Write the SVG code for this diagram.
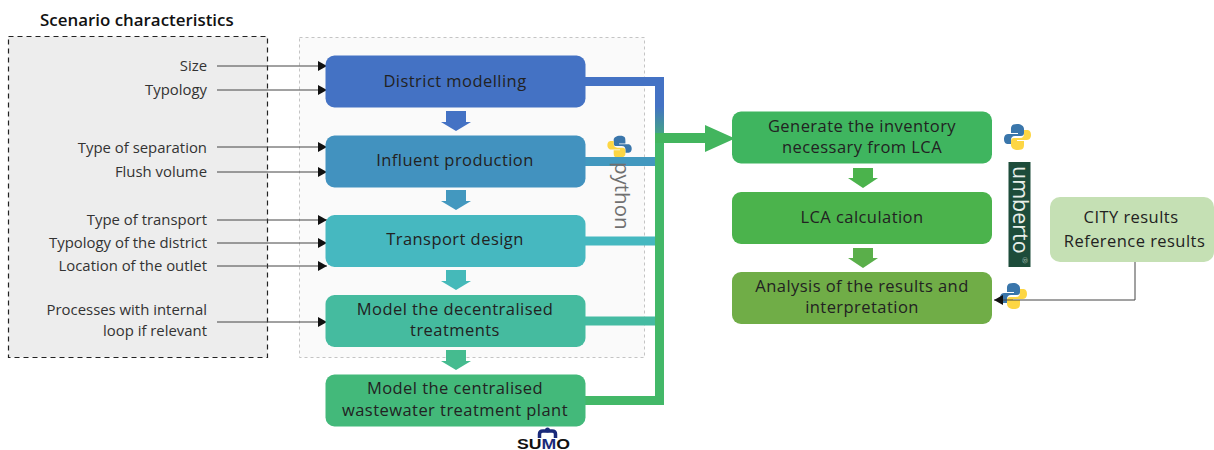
<svg xmlns="http://www.w3.org/2000/svg" width="1214" height="450" viewBox="0 0 1214 450">
<style>
text{font-family:"Open Sans","Liberation Sans",sans-serif;fill:#222}
.n{font-size:16.5px;letter-spacing:.45px;text-anchor:middle}
.l{font-size:14.9px;text-anchor:end;fill:#333}
.a{stroke:#444;stroke-width:1;fill:none;marker-end:url(#ah)}
.t{fill:none;stroke-width:9}
</style>
<defs>
<marker id="ah" markerUnits="userSpaceOnUse" markerWidth="9" markerHeight="10" refX="9" refY="5" orient="auto"><path d="M0 0L9 5L0 10Z" fill="#111"/></marker>
<linearGradient id="vg" gradientUnits="userSpaceOnUse" x1="0" y1="78" x2="0" y2="135"><stop offset="0" stop-color="#4472c4"/><stop offset=".5" stop-color="#4472c4"/><stop offset="1" stop-color="#44a585"/></linearGradient>
<g id="py">
<path d="M0 -12C-6 -12 -6 -9 -6 -6V-3H1V-2H-9C-12 -2 -13 1 -13 3C-13 7 -11 8 -9 8H-6V4C-6 2 -5 0 -2 0H4C6 0 7 -1 7 -3V-7C7 -10 4 -12 0 -12Z" fill="#3a76ab"/>
<path d="M1 14C7 14 7 11 7 8V5H0V4H10C13 4 14 1 14 -1C14 -5 12 -6 10 -6H7V-2C7 0 6 2 3 2H-3C-5 2 -6 3 -6 5V9C-6 12 -3 14 1 14Z" fill="#fdd644"/>
</g>
</defs>
<rect width="1214" height="450" fill="#fff"/>
<text x="40" y="26" style="font-size:16.900px;font-weight:600;fill:#111">Scenario characteristics</text>
<rect id="scenario-box" x="8.500" y="36.500" width="259" height="321" fill="#ededed" stroke="#222" stroke-width="1.200" stroke-dasharray="5 4"/>
<rect id="python-box" x="299.500" y="37.500" width="345" height="320" fill="#fafafa" stroke="#c4c4c4" stroke-dasharray="3 3"/>

<g id="python-logos">
<use href="#py" transform="translate(620 146) scale(-.9 .85)"/>
<use href="#py" x="1017" y="136"/>
<use href="#py" x="1013" y="295"/>
</g>

<g id="connectors">
<path class="t" d="M585 81.500H659.500V136" stroke="url(#vg)"/>
<path class="t" d="M585 161.500H656" stroke="#4298bf"/>
<path class="t" d="M585 241H656" stroke="#45b8c0"/>
<path class="t" d="M585 321H656" stroke="#45bba2"/>
<path class="t" d="M585 400.500H659.500V133" stroke="#43b868"/>
<path d="M655 133H705V125L735 138.500L705 152V143H655Z" fill="#43b55e"/>
<path class="a" d="M217 66H327"/><path class="a" d="M217 90H327"/>
<path class="a" d="M217 147H327"/><path class="a" d="M217 172H327"/>
<path class="a" d="M217 220H327"/><path class="a" d="M217 243H327"/><path class="a" d="M217 266H327"/>
<path class="a" d="M217 322H327"/>
<path class="a" d="M1135 262V300H994"/>
<path d="M446 111H466V122H471L456 131L441 122H446Z" fill="#4472c4"/>
<path d="M446 190H466V201H471L456 210L441 201H446Z" fill="#4398bf"/>
<path d="M446 270H466V281H471L456 290L441 281H446Z" fill="#45b9b9"/>
<path d="M446 350H466V361H471L456 370L441 361H446Z" fill="#45bb8f"/>
<path d="M853 168H873V178H878L863 188L848 178H853Z" fill="#4bb34c"/>
<path d="M853 248H873V258H878L863 268L848 258H853Z" fill="#5aaf4a"/>
</g>

<g id="size"><text class="l" x="207" y="71">Size</text></g>
<g id="typology"><text class="l" x="207" y="95">Typology</text></g>
<g id="sep"><text class="l" x="207" y="153">Type of separation</text></g>
<g id="flush"><text class="l" x="207" y="177">Flush volume</text></g>
<g id="transport-type"><text class="l" x="207" y="225">Type of transport</text></g>
<g id="district-typology"><text class="l" x="207" y="248">Typology of the district</text></g>
<g id="outlet"><text class="l" x="207" y="271">Location of the outlet</text></g>
<g id="processes"><text class="l" x="207" y="315">Processes with internal</text><text class="l" x="207" y="336">loop if relevant</text></g>

<g id="district-modelling"><rect x="325.500" y="55.500" width="260" height="52" rx="9" fill="#4472c4"/><text class="n" x="455" y="87">District modelling</text></g>
<g id="influent-production"><rect x="325.500" y="135.500" width="260" height="52" rx="9" fill="#4292bf"/><text class="n" x="455" y="166">Influent production</text></g>
<g id="transport-design"><rect x="325.500" y="215" width="260" height="52" rx="9" fill="#46b8c0"/><text class="n" x="455" y="245">Transport design</text></g>
<g id="decentralised"><rect x="325.500" y="295" width="260" height="52" rx="9" fill="#45bb9f"/><text class="n" x="455" y="315">Model the decentralised</text><text class="n" x="455" y="336">treatments</text></g>
<g id="centralised"><rect x="325.500" y="374.500" width="260" height="52" rx="9" fill="#43b97a"/><text class="n" x="455" y="394">Model the centralised</text><text class="n" x="455" y="416">wastewater treatment plant</text></g>

<g id="inventory"><rect x="732" y="111.500" width="260" height="52" rx="9" fill="#3fb55f"/><text class="n" x="862" y="132">Generate the inventory</text><text class="n" x="862" y="153">necessary from LCA</text></g>
<g id="lca"><rect x="732" y="192" width="260" height="52" rx="9" fill="#4bb34c"/><text class="n" x="862" y="223">LCA calculation</text></g>
<g id="analysis"><rect x="732" y="272" width="260" height="52" rx="9" fill="#70ad47"/><text class="n" x="862" y="292">Analysis of the results and</text><text class="n" x="862" y="313">interpretation</text></g>
<g id="results"><rect x="1050" y="197" width="164" height="65" rx="10" fill="#c5e0b4"/><text class="n" x="1131" y="223">CITY results</text><text class="n" x="1134.500" y="247">Reference results</text></g>

<g id="python-word"><text transform="translate(615 162) rotate(90)" style="font-size:20.500px;fill:#6f6f6f">python</text></g>
<g id="umberto"><rect x="1008.500" y="162" width="22" height="105" fill="#1d4c3a"/><text transform="translate(1012.500 166) rotate(90)" style="font-size:21.500px;fill:#e8efe9">umberto</text><text transform="translate(1022 257) rotate(90)" style="font-size:8px;fill:#9fb5a8">®</text></g>
<g id="sumo"><path d="M539.500 438V434Q539.500 431 543 431H552Q555.500 431 555.500 434V438" fill="none" stroke="#1a2a7a" stroke-width="3.500"/><circle cx="547.500" cy="430" r="2.500" fill="#1a2a7a"/><text x="517" y="449" style="font-size:14px;font-weight:800;fill:#111;font-family:'Liberation Sans',sans-serif" textLength="53" lengthAdjust="spacingAndGlyphs">SU<tspan style="fill:#1a2a7a">M</tspan>O</text></g>
</svg>
